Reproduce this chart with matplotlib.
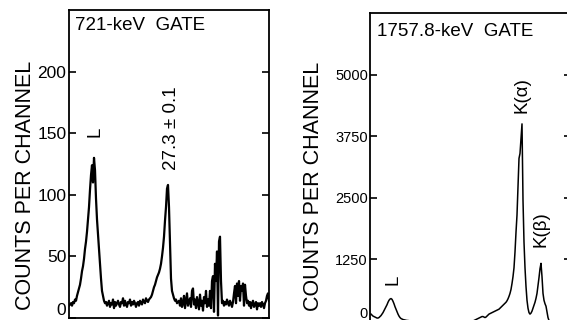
import matplotlib
matplotlib.use("Agg")
import matplotlib.pyplot as plt
import numpy as np

# ---- 721-keV gate spectrum (counts per channel, one value per channel) ----
gate721_counts = [
    10, 11, 12, 10, 13, 12, 15, 14, 18, 21,
    24, 27, 32, 38, 42, 48, 56, 62, 70, 80,
    90, 104, 116, 124, 110, 130, 120, 97, 80, 68,
    55, 44, 32, 22, 18, 14, 12, 13, 10, 12,
    14, 9, 12, 11, 15, 8, 13, 10, 12, 14,
    11, 9, 13, 12, 16, 10, 14, 11, 9, 13,
    12, 15, 10, 13, 11, 14, 12, 9, 12, 13,
    10, 14, 12, 11, 15, 13, 12, 16, 14, 13,
    15, 16, 17, 19, 22, 25, 27, 30, 33, 35,
    37, 40, 44, 50, 57, 66, 79, 90, 105, 108,
    90, 62, 32, 22, 19, 16, 14, 15, 12, 13,
    14, 10, 16, 9, 12, 18, 8, 14, 20, 10,
    13, 16, 9, 22, 24, 11, 15, 8, 17, 12,
    7, 19, 10, 14, 6, 17, 12, 22, 9, 15,
    10, 22, 8, 30, 34, 5, 44, 30, 54, 2,
    62, 66, 30, 12, 14, 10, 13, 11, 15, 12,
    10, 14, 12, 9, 13, 20, 26, 12, 28, 18,
    30, 14, 26, 22, 28, 10, 27, 18, 12, 14,
    10, 13, 8, 12, 14, 9, 11, 13, 7, 12,
    10, 12, 9, 13, 11, 8, 12, 14, 18, 20,
    14,
]

# ---- 1757.8-keV gate spectrum ----
gate1757_counts = [
    140, 120, 100, 90, 80, 70, 60, 60, 70, 90,
    110, 140, 170, 210, 250, 290, 330, 380, 420, 445,
    455, 440, 400, 350, 290, 240, 190, 140, 100, 70,
    50, 40, 30, 25, 20, 15, 10, 10, 5, 5,
    0, 0, 0, 0, 0, 0, 0, 0, 0, 0,
    0, 0, 0, 0, 0, 0, 0, 0, 0, 0,
    0, 0, 0, 0, 0, 0, 0, 0, 0, 0,
    0, 0, 0, 0, 0, 0, 0, 0, 0, 0,
    0, 0, 0, 0, 0, 0, 0, 0, 0, 0,
    0, 0, 0, 0, 0, 0, 0, 0, 0, 0,
    0, 0, 0, 10, 20, 30, 40, 50, 60, 70,
    80, 90, 90, 80, 70, 80, 100, 120, 140, 150,
    160, 170, 180, 190, 200, 210, 220, 230, 240, 260,
    280, 300, 320, 340, 360, 380, 410, 450, 500, 560,
    640, 760, 900, 1080, 1400, 1800, 2150, 2700, 3300, 3400,
    3700, 4000, 2450, 1600, 1080, 700, 420, 260, 170, 140,
    160, 200, 260, 320, 380, 460, 560, 720, 880, 1060,
    1170, 900, 560, 420, 350, 300, 180, 70, 10, 0,
    0, 0, 0, 0, 0, 0, 0, 0, 0, 0,
    0, 0, 0, 0, 0, 0, 0, 0, 0, 0,
    0,
]

left_title = "721-keV  GATE"
right_title = "1757.8-keV  GATE"
y_label = "COUNTS PER CHANNEL"
left_ticks = [0, 50, 100, 150, 200]
right_ticks = [0, 1250, 2500, 3750, 5000]

# peak annotations: (text, channel, counts)
left_peaks = [("L", 26, 151), ("27.3 ± 0.1", 102, 154)]
right_peaks = [("L", 22, 830), ("K(α)", 151, 4585), ("K(β)", 170, 1867)]

FONT = ["Liberation Sans", "DejaVu Sans"]
NARROW = ["Liberation Sans Narrow", "Liberation Sans", "DejaVu Sans"]

fig = plt.figure(figsize=(5.67, 3.2), dpi=100)
W, H = 567.0, 320.0


def px_axes(x0, x1, ytop, ybot):
    return fig.add_axes([x0 / W, (H - ybot) / H, (x1 - x0) / W, (ybot - ytop) / H])


ax1 = px_axes(68.5, 269.0, 10.0, 318.0)
ax2 = px_axes(370.0, 571.0, 13.0, 321.0)


def style(ax, ymax, ticks, tick_font, tick_size):
    ax.set_ylim(0, ymax)
    ax.set_yticks(ticks)
    ax.set_xticks([])
    for s in ax.spines.values():
        s.set_linewidth(1.3)
        s.set_color("black")
    ax.tick_params(axis="y", direction="in", length=5, width=1.2,
                   left=True, right=True, labelleft=True, labelright=False,
                   pad=1.5, colors="black")
    for lab in ax.get_yticklabels():
        lab.set_family(tick_font)
        lab.set_fontsize(tick_size)
    ax.yaxis.get_major_ticks()[0].label1.set_verticalalignment("bottom")


ch1 = np.arange(len(gate721_counts))
ax1.plot(ch1, gate721_counts, color="black", lw=1.6)
ax1.set_xlim(-0.5, 200)
style(ax1, 250, left_ticks, FONT, 12.5)
ax1.text(0.032, 0.951, left_title, transform=ax1.transAxes, ha="left",
         va="center", fontsize=13.5, family=FONT)
for txt, c, v in left_peaks:
    ax1.text(c, v, txt, rotation=90, ha="center", va="center",
             fontsize=13.5, family=FONT)

ch2 = np.arange(len(gate1757_counts))
ax2.plot(ch2, gate1757_counts, color="black", lw=1.1)
ax2.set_xlim(-1, 200)
style(ax2, 6250, right_ticks, NARROW, 10.5)
ax2.text(0.035, 0.94, right_title, transform=ax2.transAxes, ha="left",
         va="center", fontsize=13.5, family=FONT)
for txt, c, v in right_peaks:
    ax2.text(c, v, txt, rotation=90, ha="center", va="center",
             fontsize=13.5, family=FONT)

fig.text(26 / W, (H - 185) / H, y_label, rotation=90, ha="center",
         va="center", fontsize=15.5, family=FONT)
fig.text(313.5 / W, (H - 186) / H, y_label, rotation=90, ha="center",
         va="center", fontsize=15.5, family=FONT)

fig.savefig("out.png", dpi=100)
